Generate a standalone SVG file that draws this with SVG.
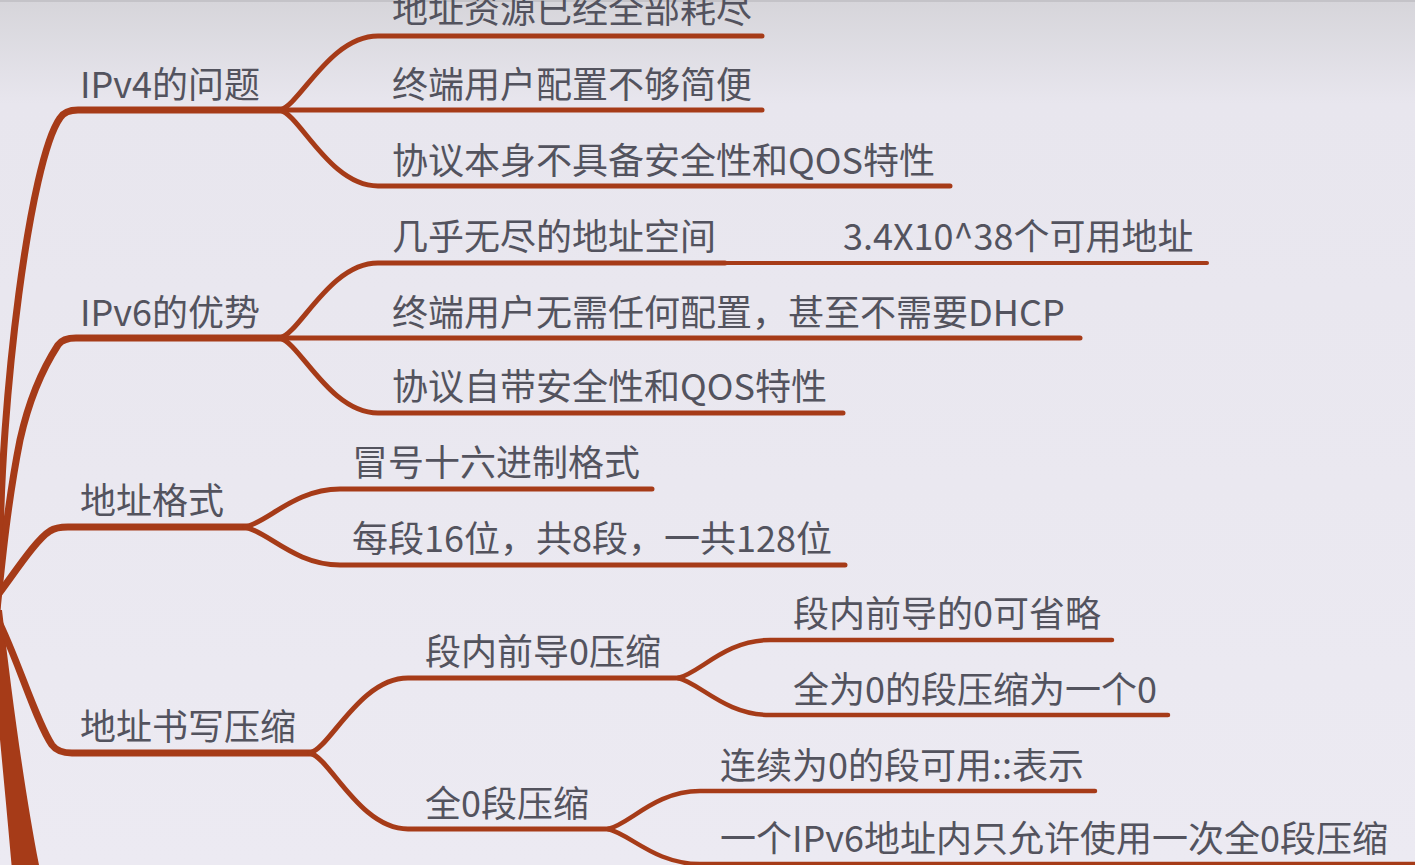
<svg xmlns="http://www.w3.org/2000/svg" width="1415" height="865" viewBox="0 0 1415 865">
  <defs>
    <linearGradient id="bg" x1="0" y1="0" x2="0" y2="1">
      <stop offset="0" stop-color="#D6D5DA"/>
      <stop offset="0.12" stop-color="#E8E6EE"/>
      <stop offset="1" stop-color="#ECEAF2"/>
    </linearGradient>
    <style>
      .t { font-family: "Noto Sans CJK SC", "Noto Sans", sans-serif; font-size: 36px; fill: #53535E; }
      .c { fill: none; stroke: #A63B18; stroke-linecap: round; stroke-linejoin: round; }
      .l1 { stroke-width: 7; }
      .l2 { stroke-width: 5; }
      .l3 { stroke-width: 4.5; }
      .l4 { stroke-width: 4; }
    </style>
  </defs>
  <rect x="0" y="0" width="1415" height="865" fill="url(#bg)"/>
  <line x1="0" y1="1" x2="1415" y2="1" stroke="#C4C3C8" stroke-width="2"/>

  <g id="connectors">
    <!-- trunk -->
    <path d="M -12,610 L 2,610 C 12,700 26,800 40,870 L 12,870 C 6,800 -4,700 -12,610 Z" fill="#A63B18"/>
    <!-- level 1 -->
    <path class="c l1" d="M -4,620 L 0,560 C 0,400 30,160 60,118 Q 65,110 78,110 H 282"/>
    <path class="c l1" d="M -4,620 C 2,560 8,500 20,440 C 30,395 45,365 58,345 Q 63,338 76,338 H 282"/>
    <path class="c l1" d="M -6,600 C 10,580 35,540 50,531 Q 56,527 68,527 H 247"/>
    <path class="c l1" d="M -6,612 C 15,650 35,720 52,745 Q 58,753 72,753 H 312"/>
    <!-- IPv4 children -->
    <path class="c l2" d="M 280,110 C 300,105 330,36 378,36 H 762"/>
    <path class="c l2" d="M 280,110 H 762"/>
    <path class="c l2" d="M 280,110 C 300,115 330,186 378,186 H 950"/>
    <!-- IPv6 children -->
    <path class="c l2" d="M 280,338 C 300,333 330,263 378,263 H 725"/>
    <path class="c l4" d="M 720,263 H 1207"/>
    <path class="c l2" d="M 280,338 H 1080"/>
    <path class="c l2" d="M 280,338 C 300,343 330,413 378,413 H 843"/>
    <!-- 地址格式 children -->
    <path class="c l2" d="M 245,527 C 268,522 295,489 340,489 H 652"/>
    <path class="c l2" d="M 245,527 C 268,532 295,565 340,565 H 845"/>
    <!-- 地址书写压缩 children -->
    <path class="c l2" d="M 310,753 C 330,748 360,678 408,678 H 680"/>
    <path class="c l2" d="M 310,753 C 330,758 360,829 408,829 H 610"/>
    <!-- 段内前导0压缩 children -->
    <path class="c l3" d="M 678,678 C 700,673 725,640 770,640 H 1112"/>
    <path class="c l3" d="M 678,678 C 700,683 725,715 770,715 H 1168"/>
    <!-- 全0段压缩 children -->
    <path class="c l3" d="M 608,829 C 630,824 655,791 700,791 H 1095"/>
    <path class="c l3" d="M 608,829 C 630,834 655,864 700,864 H 1420"/>
  </g>

  <g id="n-ipv4"><text class="t" x="80" y="98">IPv4的问题</text></g>
  <g id="n-ipv4-1"><text class="t" x="392" y="23">地址资源已经全部耗尽</text></g>
  <g id="n-ipv4-2"><text class="t" x="392" y="98">终端用户配置不够简便</text></g>
  <g id="n-ipv4-3"><text class="t" x="392" y="174">协议本身不具备安全性和QOS特性</text></g>

  <g id="n-ipv6"><text class="t" x="80" y="326">IPv6的优势</text></g>
  <g id="n-ipv6-1"><text class="t" x="392" y="250">几乎无尽的地址空间</text></g>
  <g id="n-ipv6-1a"><text class="t" x="843" y="250">3.4X10^38个可用地址</text></g>
  <g id="n-ipv6-2"><text class="t" x="392" y="326">终端用户无需任何配置，甚至不需要DHCP</text></g>
  <g id="n-ipv6-3"><text class="t" x="392" y="400">协议自带安全性和QOS特性</text></g>

  <g id="n-fmt"><text class="t" x="80" y="514">地址格式</text></g>
  <g id="n-fmt-1"><text class="t" x="352" y="476">冒号十六进制格式</text></g>
  <g id="n-fmt-2"><text class="t" x="352" y="552">每段16位，共8段，一共128位</text></g>

  <g id="n-cmp"><text class="t" x="80" y="740">地址书写压缩</text></g>
  <g id="n-cmp-1"><text class="t" x="425" y="665">段内前导0压缩</text></g>
  <g id="n-cmp-1a"><text class="t" x="793" y="627">段内前导的0可省略</text></g>
  <g id="n-cmp-1b"><text class="t" x="793" y="703">全为0的段压缩为一个0</text></g>
  <g id="n-cmp-2"><text class="t" x="425" y="817">全0段压缩</text></g>
  <g id="n-cmp-2a"><text class="t" x="720" y="779">连续为0的段可用::表示</text></g>
  <g id="n-cmp-2b"><text class="t" x="720" y="852">一个IPv6地址内只允许使用一次全0段压缩</text></g>
</svg>
